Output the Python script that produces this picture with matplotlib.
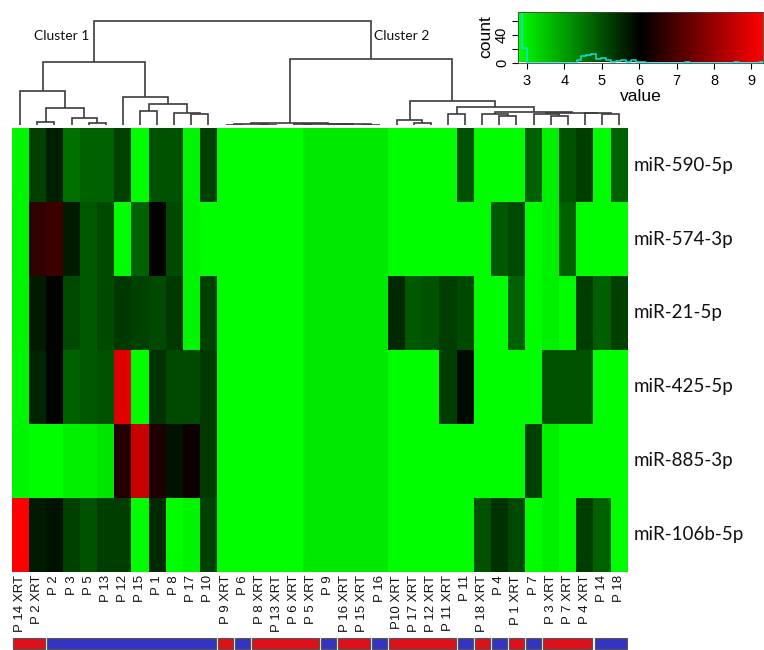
import numpy as np
import matplotlib
matplotlib.use('Agg')
import matplotlib.pyplot as plt
from matplotlib.colors import LinearSegmentedColormap
from matplotlib.patches import Rectangle
from matplotlib.transforms import blended_transform_factory

# ---------------- data ----------------
col_labels = ["P 14 XRT", "P 2 XRT", "P 2", "P 3", "P 5", "P 13", "P 12", "P 15", "P 1",
              "P 8", "P 17", "P 10", "P 9 XRT", "P 6", "P 8 XRT", "P 13 XRT", "P 6 XRT",
              "P 5 XRT", "P 9", "P 16 XRT", "P 15 XRT", "P 16", "P10 XRT", "P 17 XRT",
              "P 12 XRT", "P 11 XRT", "P 11", "P 18 XRT", "P 4", "P 1 XRT", "P 7",
              "P 3 XRT", "P 7 XRT", "P 4 XRT", "P 14", "P 18"]
row_labels = ["miR-590-5p", "miR-574-3p", "miR-21-5p", "miR-425-5p", "miR-885-3p", "miR-106b-5p"]

miR_590_5p = [2.9, 5.2, 5.65, 4.6, 4.8, 4.8, 5.2, 2.8, 5.0, 5.0, 2.9, 5.2,
              2.8, 2.8, 2.8, 2.8, 2.8, 3.05, 3.05, 3.05, 3.05, 3.05,
              2.8, 2.8, 2.8, 2.8, 5.0, 2.8, 2.8, 2.8, 4.8, 2.95, 5.0, 5.25, 2.8, 4.8]
miR_574_3p = [2.9, 6.65, 6.8, 5.7, 4.9, 5.1, 2.8, 4.8, 6.0, 5.1, 2.9, 2.8,
              2.8, 2.8, 2.8, 2.8, 2.8, 3.05, 3.05, 3.05, 3.05, 3.05,
              2.8, 2.8, 2.8, 2.8, 2.8, 2.8, 4.9, 5.1, 2.8, 2.95, 4.8, 2.8, 2.8, 2.8]
miR_21_5p = [2.9, 5.7, 6.0, 5.1, 4.9, 5.1, 5.3, 5.2, 5.1, 5.3, 2.9, 5.2,
             2.8, 2.8, 2.8, 2.8, 2.8, 3.05, 3.05, 3.05, 3.05, 3.05,
             5.5, 4.9, 5.0, 5.25, 5.1, 2.8, 2.8, 4.8, 2.8, 2.95, 2.8, 5.25, 4.85, 5.2]
miR_425_5p = [2.9, 5.6, 6.0, 4.8, 4.9, 5.0, 8.9, 2.8, 5.4, 5.1, 5.1, 5.3,
              2.8, 2.8, 2.8, 2.8, 2.8, 3.05, 3.05, 3.05, 3.05, 3.05,
              2.8, 2.8, 2.8, 5.25, 5.9, 2.8, 2.8, 2.8, 2.8, 5.0, 5.0, 5.0, 2.8, 2.8]
miR_885_3p = [2.9, 2.8, 2.8, 2.95, 2.95, 3.1, 6.5, 8.6, 6.4, 5.8, 6.2, 5.3,
              2.8, 2.8, 2.8, 2.8, 2.8, 3.05, 3.05, 3.05, 3.05, 3.05,
              2.8, 2.8, 2.8, 2.8, 2.8, 2.8, 2.8, 2.8, 5.2, 2.95, 2.8, 2.8, 2.8, 2.8]
miR_106b_5p = [9.3, 5.7, 5.8, 5.2, 5.0, 5.25, 5.25, 2.8, 5.5, 2.8, 2.9, 5.2,
               2.8, 2.8, 2.8, 2.8, 2.8, 3.05, 3.05, 3.05, 3.05, 3.05,
               2.8, 2.8, 2.8, 2.8, 2.8, 5.0, 5.4, 5.1, 2.8, 2.95, 2.8, 5.25, 4.8, 2.8]

# column dendrogram merges: (left node, right node, height); leaves 0..35, merges 36..
merges = [
    (4, 5, 2.3), (3, 36, 6.7), (1, 2, 3.3), (38, 37, 16.7), (0, 39, 34.3),
    (10, 11, 10.7), (9, 41, 11.7), (7, 8, 14.0), (43, 42, 20.7), (6, 44, 28.3),
    (40, 45, 62.7),
    (12, 13, 0.4), (14, 15, 0.5), (47, 48, 1.0), (16, 17, 0.8), (18, 19, 0.6),
    (20, 21, 0.5), (51, 52, 0.9), (50, 53, 1.2), (49, 54, 1.7),
    (23, 24, 2.3), (22, 56, 5.0), (25, 26, 11.0), (28, 29, 9.3), (27, 59, 11.0),
    (31, 32, 9.3), (30, 61, 11.0), (34, 35, 11.0), (33, 63, 11.7), (62, 64, 12.5),
    (60, 65, 13.3), (58, 66, 18.3), (57, 67, 24.3), (55, 68, 66.0), (46, 69, 104.3),
]

# colour key histogram (counts per bin, 50 bins)
hist_counts = [140, 21, 0, 0, 0, 0, 0, 0, 0, 0, 0, 0, 4, 9, 11, 12, 5, 6, 4, 1,
               2, 3, 1, 3, 1, 1, 0, 0, 0, 0, 0, 0, 0, 0, 1, 0, 0, 0, 0, 0,
               0, 0, 0, 0, 1, 0, 0, 0, 0, 1]
key_min, key_max = 2.745, 9.33

# ---------------- figure ----------------
W, H = 764, 650
fig = plt.figure(figsize=(W / 100, H / 100), dpi=100)


def ax_px(x0, y0, x1, y1):
    return fig.add_axes([x0 / W, 1 - y1 / H, (x1 - x0) / W, (y1 - y0) / H])


cmap = LinearSegmentedColormap.from_list("gbr", ["#00FF00", "#000000", "#FF0000"])
vmin, vmax = 2.76, 9.31

data = np.array([miR_590_5p, miR_574_3p, miR_21_5p, miR_425_5p, miR_885_3p, miR_106b_5p])
ncol = len(col_labels)
nrow = len(row_labels)

HX0, HX1, HY0, HY1 = 11.7, 627.7, 128.3, 571.5
ax = ax_px(HX0, HY0, HX1, HY1)
ax.pcolormesh(np.arange(ncol + 1), np.arange(nrow + 1), data, cmap=cmap,
              vmin=vmin, vmax=vmax, shading='flat')
ax.set_xlim(0, ncol)
ax.set_ylim(nrow, 0)
ax.axis('off')

lab_font = ['Lato', 'DejaVu Sans']
tr = blended_transform_factory(ax.transAxes, ax.transData)
for i, lab in enumerate(row_labels):
    ax.text(1 + 5.5 / (HX1 - HX0), i + 0.5, lab, transform=tr, ha='left', va='center',
            fontsize=13.5, family=lab_font, color='#111111')

row_h_px = (HY1 - HY0) / nrow
for j, lab in enumerate(col_labels):
    ax.text(j + 0.5, nrow + 3.5 / row_h_px, lab, rotation=90, ha='center', va='top',
            fontsize=9.5, family=['Liberation Sans', 'DejaVu Sans'], color='#111111')

# ---------------- dendrogram ----------------
dax = ax_px(HX0, 0, HX1, 125)
dax.set_xlim(0, ncol)
dax.set_ylim(0, 125)
dax.axis('off')
pos = {i: (i + 0.5, 0.0) for i in range(ncol)}
for k, (a, b, h) in enumerate(merges):
    xa, ha = pos[a]
    xb, hb = pos[b]
    dax.plot([xa, xa, xb, xb], [ha, h, h, hb], color='#3c3c3c', lw=1.2,
             solid_joinstyle='miter', solid_capstyle='butt')
    pos[ncol + k] = ((xa + xb) / 2, h)

fig.text(89.5 / W, 1 - 36 / H, "Cluster 1", ha='right', va='center', fontsize=10,
         family=lab_font, color='#111111')
fig.text(374.5 / W, 1 - 36 / H, "Cluster 2", ha='left', va='center', fontsize=10,
         family=lab_font, color='#111111')

# ---------------- group colour bar ----------------
bax = ax_px(HX0, 637.5, HX1, 650)
bax.set_xlim(0, ncol)
bax.set_ylim(0, 1)
bax.axis('off')
groups = ['XRT' if 'XRT' in c else 'ctrl' for c in col_labels]
gcol = {'XRT': '#E0101A', 'ctrl': '#3434C4'}
start = 0
for j in range(1, ncol + 1):
    if j == ncol or groups[j] != groups[start]:
        bax.add_patch(Rectangle((start + 0.06, 0.06), (j - start) - 0.12, 0.9,
                                facecolor=gcol[groups[start]], edgecolor='#555555', lw=0.9))
        start = j

# ---------------- colour key ----------------
kax = ax_px(518, 11.5, 763, 62.5)
grad = np.linspace(vmin, vmax, 256).reshape(1, -1)
kax.imshow(grad, cmap=cmap, vmin=vmin, vmax=vmax, aspect='auto',
           extent=(vmin, vmax, 0, 73), origin='lower')
edges = np.linspace(key_min, key_max, len(hist_counts) + 1)
kax.plot(edges, hist_counts + [hist_counts[-1]], drawstyle='steps-post',
         color='#10E0E0', lw=1.1)
kax.set_xlim(vmin, vmax)
kax.set_ylim(0, 73)
kf = ['Liberation Sans', 'DejaVu Sans']
kax.set_xticks([3, 4, 5, 6, 7, 8, 9])
kax.set_xticklabels(['3', '4', '5', '6', '7', '8', '9'], fontsize=10.5, family=kf)
kax.set_yticks([0, 20, 40, 60])
kax.set_yticklabels(['0', '', '40', ''], fontsize=10.5, family=kf, rotation=90, va='center')
kax.tick_params(axis='x', length=4.5, width=0.8, pad=3.5)
kax.tick_params(axis='y', length=4, width=0.8, pad=2.5)
kax.set_xlabel('value', fontsize=12.5, family=kf, labelpad=1)
kax.set_ylabel('count', fontsize=12.5, family=kf, labelpad=1)
for s in kax.spines.values():
    s.set_linewidth(0.6)
    s.set_color('#444444')

fig.savefig('out.png', dpi=100)
